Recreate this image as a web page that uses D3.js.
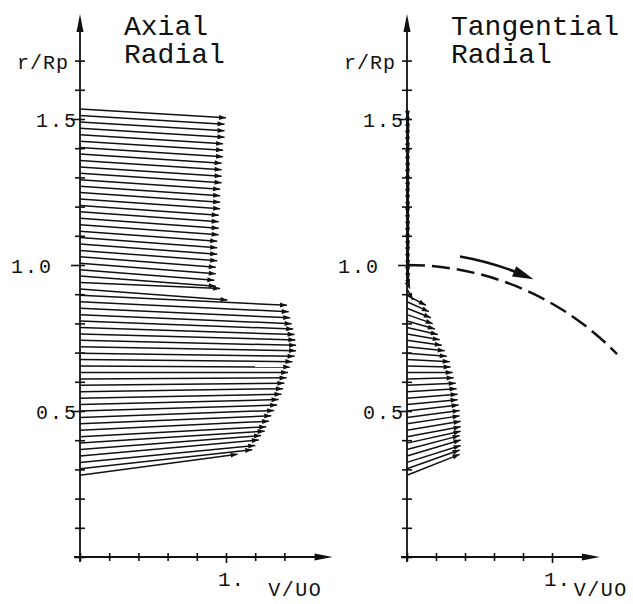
<!DOCTYPE html>
<html>
<head>
<meta charset="utf-8">
<script src="https://cdnjs.cloudflare.com/ajax/libs/d3/7.8.5/d3.min.js"></script>
<style>
  body { margin: 0; background: #fff; }
  svg { display: block; }
</style>
</head>
<body>
<div id="chart"></div>
<script>
// radial stations (r/Rp) of the measured rows, top to bottom
var rowR = [1.534, 1.512, 1.490, 1.468, 1.446, 1.424, 1.402, 1.380, 1.358, 1.336,
            1.314, 1.292, 1.270, 1.248, 1.226, 1.204, 1.182, 1.160, 1.138, 1.116,
            1.094, 1.072, 1.050, 1.028, 1.006, 0.984, 0.962, 0.940, 0.918, 0.896,
            0.874, 0.852, 0.830, 0.808, 0.786, 0.764, 0.742, 0.720, 0.698, 0.676,
            0.654, 0.632, 0.610, 0.588, 0.566, 0.544, 0.522, 0.500, 0.478, 0.456,
            0.434, 0.412, 0.390, 0.368, 0.346, 0.324, 0.302, 0.280];

// axial velocity V/U0
var axialV = [1.00, 0.99, 0.99, 0.99, 0.98, 0.98, 0.98, 0.97, 0.97, 0.97,
              0.97, 0.96, 0.96, 0.96, 0.96, 0.95, 0.95, 0.95, 0.95, 0.94,
              0.94, 0.94, 0.94, 0.93, 0.93, 0.92, 0.93, 0.96, 1.01, 1.418,
              1.43, 1.44, 1.45, 1.46, 1.47, 1.475, 1.48, 1.48, 1.47, 1.455,
              1.44, 1.425, 1.415, 1.40, 1.39, 1.38, 1.36, 1.35, 1.33, 1.31,
              1.295, 1.275, 1.265, 1.24, 1.225, 1.20, 1.18, 1.08];

// tangential velocity V/U0
var tangentialV = [0.010, 0.010, 0.012, 0.010, 0.010, 0.012, 0.010, 0.010, 0.012, 0.010,
                   0.010, 0.012, 0.010, 0.010, 0.012, 0.010, 0.010, 0.012, 0.010, 0.010,
                   0.012, 0.010, 0.010, 0.012, 0.010, 0.012, 0.015, 0.020, 0.040, 0.130,
                   0.151, 0.164, 0.178, 0.192, 0.212, 0.226, 0.240, 0.260, 0.274, 0.295,
                   0.301, 0.315, 0.322, 0.336, 0.342, 0.349, 0.349, 0.356, 0.363, 0.363,
                   0.370, 0.370, 0.370, 0.363, 0.370, 0.370, 0.363, 0.363];

// radial velocity V/U0 (positive = outward)
var radialV = [-0.060, -0.060, -0.061, -0.061, -0.062, -0.062, -0.063, -0.063, -0.064, -0.064,
               -0.065, -0.065, -0.066, -0.066, -0.067, -0.067, -0.068, -0.068, -0.069, -0.069,
               -0.070, -0.070, -0.071, -0.071, -0.072, -0.072, -0.070, -0.041, -0.075, -0.068,
               -0.068, -0.066, -0.062, -0.055, -0.048, -0.041, -0.034, -0.027, -0.021, -0.014,
               -0.007, 0.000, 0.007, 0.014, 0.021, 0.027, 0.034, 0.041, 0.048, 0.055,
               0.062, 0.068, 0.082, 0.096, 0.110, 0.116, 0.130, 0.144];

var yTicks = [0, 0.1, 0.2, 0.3, 0.4, 0.5, 0.6, 0.7, 0.8, 0.9, 1.0, 1.1, 1.2, 1.3, 1.4, 1.5, 1.6, 1.7];
var yLabels = [0.5, 1.0, 1.5];
var xTicksAxial = [0, 0.2, 0.4, 0.6, 0.8, 1.0, 1.2, 1.4];
var xTicksTang = [0, 0.2, 0.4, 0.6, 0.8, 1.0];
var xLabels = [1.0];
var titlesAxial = ["Axial", "Radial"];
var titlesTang = ["Tangential", "Radial"];

var FONT = '"Liberation Mono", "DejaVu Sans Mono", monospace';
var INK = '#111';

var svg = d3.select('#chart').append('svg')
    .attr('width', 633)
    .attr('height', 604);

svg.append('rect').attr('width', 633).attr('height', 604).attr('fill', '#fff');

var y = d3.scaleLinear().domain([0, 1]).range([557, 265]);
var xA = d3.scaleLinear().domain([0, 1]).range([80, 226]);
var xT = d3.scaleLinear().domain([0, 1]).range([407, 552]);

var rows = rowR.map(function(r, i) {
  return {r: r, va: axialV[i], vt: tangentialV[i], vr: radialV[i]};
});

// filled arrow head at (x2,y2) pointing away from (x1,y1)
function head(x1, y1, x2, y2, len, hw) {
  var a = Math.atan2(y2 - y1, x2 - x1);
  var bx = x2 - len * Math.cos(a), by = y2 - len * Math.sin(a);
  var px = -Math.sin(a) * hw, py = Math.cos(a) * hw;
  return 'M' + x2 + ',' + y2 + 'L' + (bx + px) + ',' + (by + py) + 'L' + (bx - px) + ',' + (by - py) + 'Z';
}

function drawPanel(x, key, xTicks, xMax, titles, labelX) {
  var g = svg.append('g');
  var x0 = x(0), y0 = y(0);

  // vectors
  rows.forEach(function(d) {
    var x1 = x0, y1 = y(d.r);
    var x2 = x(d[key]), y2 = y1 - (x(d.vr) - x0);
    g.append('line')
      .attr('x1', x1).attr('y1', y1)
      .attr('x2', x2).attr('y2', y2)
      .attr('stroke', INK).attr('stroke-width', 1.5);
    g.append('path')
      .attr('d', head(x1, y1, x2, y2, 7, 2.5))
      .attr('fill', INK);
  });

  // y axis
  var yTop = y(1.86);
  g.append('line')
    .attr('x1', x0).attr('x2', x0)
    .attr('y1', y0 + 5).attr('y2', yTop + 10)
    .attr('stroke', INK).attr('stroke-width', 1.8);
  g.append('path')
    .attr('d', head(x0, y0, x0, yTop, 18, 3.5))
    .attr('fill', INK);

  var yAxis = d3.axisLeft(y)
    .tickValues(yTicks)
    .tickSizeInner(5)
    .tickSizeOuter(0)
    .tickFormat(function(d) { return yLabels.indexOf(d) >= 0 ? d3.format('.1f')(d) : ''; });

  var yg = g.append('g')
    .attr('transform', 'translate(' + x0 + ',0)')
    .call(yAxis);
  yg.select('.domain').remove();
  yg.selectAll('.tick line')
    .attr('x1', 5)
    .attr('x2', function(d) { return yLabels.indexOf(d) >= 0 ? -9 : -5; })
    .attr('stroke', INK)
    .attr('stroke-width', 1.6);
  yg.selectAll('.tick text')
    .attr('x', function(d) { return d === 1 ? -27 : -2; })
    .attr('dy', '0.38em')
    .attr('fill', INK)
    .style('font-family', FONT)
    .style('font-size', '20px')
    .style('letter-spacing', '2px');

  g.append('text')
    .attr('x', x0 - 11)
    .attr('y', y(1.7) + 8)
    .attr('text-anchor', 'end')
    .attr('fill', INK)
    .style('font-family', FONT)
    .style('font-size', '20px')
    .style('letter-spacing', '1px')
    .text('r/Rp');

  // x axis
  var xEnd = x(xMax);
  g.append('line')
    .attr('x1', x0 - 6).attr('x2', xEnd - 10)
    .attr('y1', y0).attr('y2', y0)
    .attr('stroke', INK).attr('stroke-width', 1.8);
  g.append('path')
    .attr('d', head(x0, y0, xEnd, y0, 18, 3.5))
    .attr('fill', INK);

  var xAxis = d3.axisBottom(x)
    .tickValues(xTicks)
    .tickSizeInner(4)
    .tickSizeOuter(0)
    .tickFormat(function(d) { return xLabels.indexOf(d) >= 0 ? '1.' : ''; });

  var xg = g.append('g')
    .attr('transform', 'translate(0,' + y0 + ')')
    .call(xAxis);
  xg.select('.domain').remove();
  xg.selectAll('.tick line')
    .attr('y1', -4)
    .attr('y2', function(d) { return xLabels.indexOf(d) >= 0 ? 6 : 4; })
    .attr('stroke', INK)
    .attr('stroke-width', 1.6);
  xg.selectAll('.tick text')
    .attr('y', 29)
    .attr('dy', 0)
    .attr('x', 5)
    .attr('fill', INK)
    .style('font-family', FONT)
    .style('font-size', '21px')
    .style('letter-spacing', '1px');

  g.append('text')
    .attr('x', x(labelX))
    .attr('y', 596)
    .attr('fill', INK)
    .style('font-family', FONT)
    .style('font-size', '20px')
    .style('letter-spacing', '1.5px')
    .text('V/UO');

  // panel titles
  titles.forEach(function(t, i) {
    g.append('text')
      .attr('x', x0 + 44)
      .attr('y', 35 + i * 28)
      .attr('fill', INK)
      .style('font-family', FONT)
      .style('font-size', '28px')
      .text(t);
  });

  return g;
}

drawPanel(xA, 'va', xTicksAxial, 1.73, titlesAxial, 1.29);
var gT = drawPanel(xT, 'vt', xTicksTang, 1.33, titlesTang, 1.15);

// blade tip circle r/Rp = 1 and rotation arrow
var R = y(0) - y(1);
var up = -Math.PI / 2, deg = Math.PI / 180;
var tipArc = d3.path();
tipArc.arc(xT(0), y(0), R, up, up + 46 * deg);
gT.append('path')
  .attr('d', tipArc.toString())
  .attr('fill', 'none')
  .attr('stroke', INK)
  .attr('stroke-width', 2.5)
  .attr('stroke-dasharray', '18,7');

var R2 = R * 1.045;
function onR2(a) { return [xT(0) + R2 * Math.sin(a * deg), y(0) - R2 * Math.cos(a * deg)]; }
var rot = d3.path();
rot.arc(xT(0), y(0), R2, up + 10 * deg, up + 21 * deg);
gT.append('path')
  .attr('d', rot.toString())
  .attr('fill', 'none')
  .attr('stroke', INK)
  .attr('stroke-width', 2.5);
var pb = onR2(20.5), pt = onR2(24.5);
gT.append('path')
  .attr('d', head(pb[0], pb[1], pt[0], pt[1], 21, 5.5))
  .attr('fill', INK);
</script>
</body>
</html>
